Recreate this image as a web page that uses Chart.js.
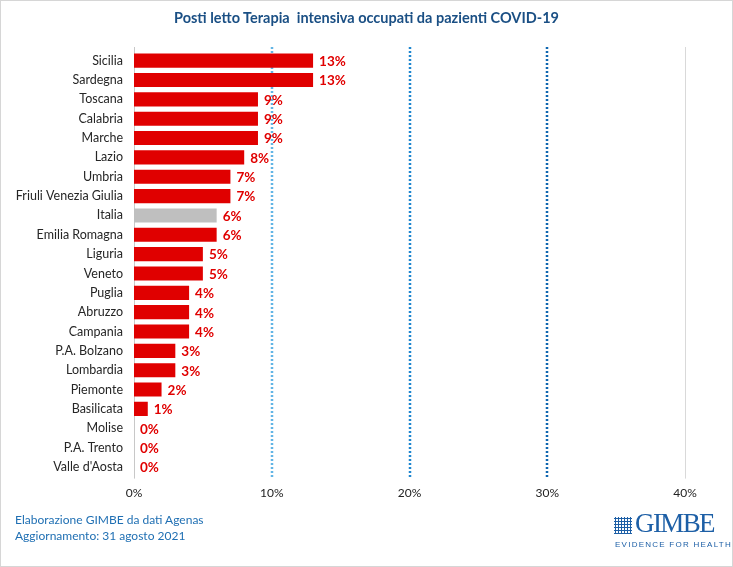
<!DOCTYPE html>
<html>
<head>
<meta charset="utf-8">
<script src="https://cdn.jsdelivr.net/npm/chart.js@4"></script>
<style>
  html, body { margin: 0; padding: 0; background: #fff; }
  #wrap { position: relative; width: 733px; height: 567px; box-sizing: border-box; border: 1px solid #d6d6d6; overflow: hidden; font-family: Lato, "Open Sans", sans-serif; }
  #wrap canvas { position: absolute; left: 0; top: 0; }
  #title { position: absolute; left: 0; width: 731px; top: 8px; text-align: center; color: #1a4f84; font-weight: bold; font-size: 14.5px; white-space: pre; }
  .foot { position: absolute; left: 14px; color: #1f6fb3; font-size: 12px; }
  #logo { position: absolute; left: 613px; top: 513px; color: #1d5fa6; }
  #logo .name { position: absolute; left: 21px; top: -6px; font-family: "Liberation Serif", "DejaVu Serif", serif; font-size: 27px; letter-spacing: -1.6px; }
  #logo .tag { position: absolute; left: 1px; top: 26px; font-size: 8px; letter-spacing: 1.25px; white-space: nowrap; font-family: "Liberation Sans", sans-serif; }
  #logo .icon { position: absolute; left: 0; top: 3px; width: 18px; height: 17px;
    background-image: radial-gradient(circle, #1d5fa6 1px, transparent 1.2px); background-size: 3px 3px; }
</style>
</head>
<body>
<div id="wrap">
  <canvas id="chart" width="731" height="565"></canvas>
  <div id="title">Posti letto Terapia  intensiva occupati da pazienti COVID-19</div>
  <div class="foot" style="top:511px">Elaborazione GIMBE da dati Agenas</div>
  <div class="foot" style="top:527px">Aggiornamento: 31 agosto 2021</div>
  <div id="logo"><div class="icon"></div><div class="name">GIMBE</div><div class="tag">EVIDENCE FOR HEALTH</div></div>
</div>
<script>
const regions = ['Sicilia', 'Sardegna', 'Toscana', 'Calabria', 'Marche', 'Lazio', 'Umbria', 'Friuli Venezia Giulia', 'Italia', 'Emilia Romagna', 'Liguria', 'Veneto', 'Puglia', 'Abruzzo', 'Campania', 'P.A. Bolzano', 'Lombardia', 'Piemonte', 'Basilicata', 'Molise', 'P.A. Trento', "Valle d'Aosta"];
const occupied = [13, 13, 9, 9, 9, 8, 7, 7, 6, 6, 5, 5, 4, 4, 4, 3, 3, 2, 1, 0, 0, 0];
const xTicks = [0, 10, 20, 30, 40];

const barColors = regions.map(r => r === 'Italia' ? '#bfbfbf' : '#e00000');

// reference lines at 10/20/30%, solid at 0 and 40
const refLines = {
  id: 'refLines',
  beforeDatasetsDraw(chart) {
    const { ctx, chartArea, scales } = chart;
    const styles = {
      0: { color: '#c8c8c8', width: 1, dash: [] },
      10: { color: '#62b5e5', width: 2.5, dash: [2, 2] },
      20: { color: '#1f86cf', width: 2.5, dash: [2, 2] },
      30: { color: '#0f66b0', width: 2.5, dash: [2, 2] },
      40: { color: '#d9d9d9', width: 1, dash: [] }
    };
    ctx.save();
    xTicks.forEach(v => {
      const s = styles[v];
      const x = Math.round(scales.x.getPixelForValue(v)) + (s.width === 1 ? 0.5 : 0);
      ctx.strokeStyle = s.color;
      ctx.lineWidth = s.width;
      ctx.setLineDash(s.dash);
      ctx.beginPath();
      ctx.moveTo(x, chartArea.top - 4);
      ctx.lineTo(x, chartArea.bottom + 2);
      ctx.stroke();
    });
    ctx.restore();
  }
};

const valueLabels = {
  id: 'valueLabels',
  afterDatasetsDraw(chart) {
    const { ctx } = chart;
    const meta = chart.getDatasetMeta(0);
    ctx.save();
    ctx.font = 'bold 13.5px Lato, sans-serif';
    ctx.fillStyle = '#e00000';
    ctx.textBaseline = 'middle';
    ctx.textAlign = 'left';
    meta.data.forEach((bar, i) => {
      ctx.fillText(occupied[i] + '%', bar.x + 6, bar.y + 1);
    });
    ctx.restore();
  }
};

new Chart(document.getElementById('chart'), {
  type: 'bar',
  data: {
    labels: regions,
    datasets: [{
      data: occupied,
      backgroundColor: barColors,
      borderWidth: 0,
      barPercentage: 0.73,
      categoryPercentage: 1
    }]
  },
  options: {
    indexAxis: 'y',
    responsive: false,
    animation: false,
    layout: { padding: { left: 0, right: 47, top: 50, bottom: 57 } },
    plugins: {
      legend: { display: false },
      tooltip: { enabled: false },
      title: { display: false }
    },
    scales: {
      x: {
        min: 0,
        max: 40,
        afterBuildTicks(scale) { scale.ticks = xTicks.map(v => ({ value: v })); },
        grid: { display: false, drawTicks: false },
        border: { display: false },
        ticks: {
          color: '#222',
          font: { family: 'Lato, sans-serif', size: 12 },
          padding: 9,
          callback: v => v + '%'
        }
      },
      y: {
        afterFit(scale) { scale.width = 133; },
        grid: { display: false, drawTicks: false },
        border: { display: false },
        ticks: {
          color: '#262626',
          font: { family: 'Lato, sans-serif', size: 12.5 },
          padding: 11,
          autoSkip: false
        }
      }
    }
  },
  plugins: [refLines, valueLabels]
});
</script>
</body>
</html>
